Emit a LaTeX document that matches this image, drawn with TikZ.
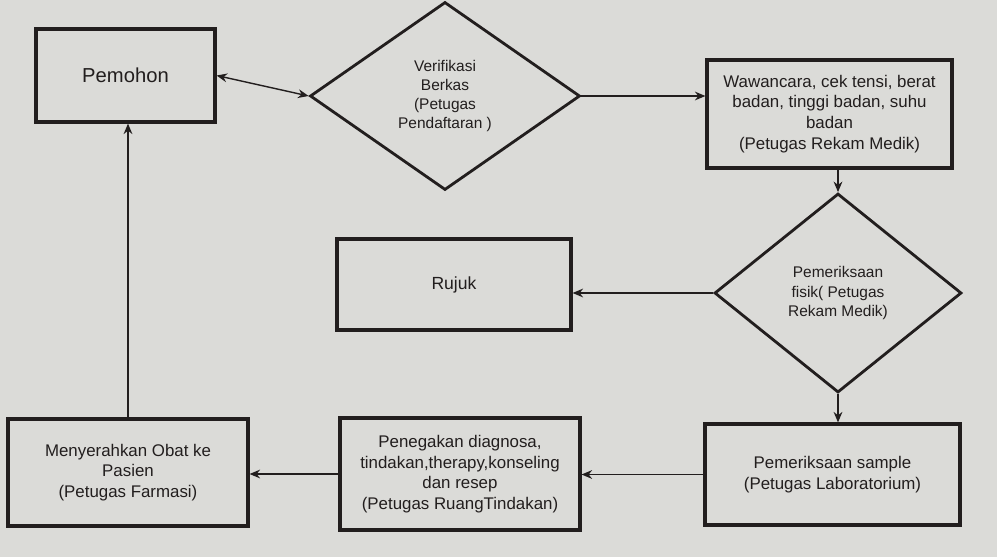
\documentclass[tikz,border=0pt]{standalone}
\usepackage{fontspec}
\setmainfont{Liberation Sans}
\usetikzlibrary{shapes.geometric,arrows.meta}

\definecolor{paper}{RGB}{219,219,216}
\definecolor{ink}{RGB}{34,30,30}

\tikzset{
  box/.style={draw=ink, line width=1.8pt, align=center, inner sep=2pt,
    text=ink, font=\fontsize{9.6}{11.8}\selectfont},
  check/.style={diamond, draw=ink, line width=1.6pt, align=center,
    inner sep=0pt, shape aspect=1.4, text=ink,
    font=\fontsize{8.8}{11}\selectfont},
  flow/.style={draw=ink, line width=0.8pt, -{Stealth[length=6pt,width=5pt]}}
}

\begin{document}
\begin{tikzpicture}
    % paper
    \fill[paper] (0,0) rectangle (19.94,-11.14);
    \useasboundingbox (0,0) rectangle (19.94,-11.14);

    % draw top row
    \node[box, minimum width=3.58cm, minimum height=1.86cm,
      font=\fontsize{11.5}{14}\selectfont] (pemohon) at (2.51,-1.51) {Pemohon};
    \node[check, minimum width=5.4cm, minimum height=3.76cm] (verifikasi) at (8.9,-1.92)
      {Verifikasi\\Berkas\\(Petugas\\Pendaftaran )};
    \node[box, minimum width=4.9cm, minimum height=2.16cm] (wawancara) at (16.59,-2.28)
      {Wawancara, cek tensi, berat\\badan, tinggi badan, suhu\\badan\\(Petugas Rekam Medik)};

    % draw middle row
    \node[box, minimum width=4.68cm, minimum height=1.82cm,
      font=\fontsize{10}{12}\selectfont] (rujuk) at (9.08,-5.69) {Rujuk};
    \node[check, minimum width=4.94cm, minimum height=3.98cm] (fisik) at (16.76,-5.86)
      {Pemeriksaan\\fisik( Petugas\\Rekam Medik)};

    % draw bottom row
    \node[box, minimum width=5.1cm, minimum height=2.02cm] (sample) at (16.65,-9.49)
      {Pemeriksaan sample\\(Petugas Laboratorium)};
    \node[box, minimum width=4.8cm, minimum height=2.24cm] (penegakan) at (9.2,-9.48)
      {Penegakan diagnosa,\\tindakan,therapy,konseling\\dan resep\\(Petugas RuangTindakan)};
    \node[box, minimum width=4.8cm, minimum height=2.14cm] (obat) at (2.56,-9.45)
      {Menyerahkan Obat ke\\Pasien\\(Petugas Farmasi)};

    % draw arrows
    \draw[flow, {Stealth[length=6pt,width=5pt]}-{Stealth[length=6pt,width=5pt]}]
      (pemohon.east) -- (verifikasi.west);
    \draw[flow] (verifikasi.east) -- (verifikasi.east -| wawancara.west);
    \draw[flow] (fisik.north |- wawancara.south) -- (fisik.north);
    \draw[flow] (fisik.west) -- (fisik.west -| rujuk.east);
    \draw[flow] (fisik.south) -- (fisik.south |- sample.north);
    \draw[flow] (sample.west) -- (sample.west -| penegakan.east);
    \draw[flow] (penegakan.west) -- (penegakan.west -| obat.east);
    \draw[flow] (obat.north) -- (obat.north |- pemohon.south);

\end{tikzpicture}
\end{document}
